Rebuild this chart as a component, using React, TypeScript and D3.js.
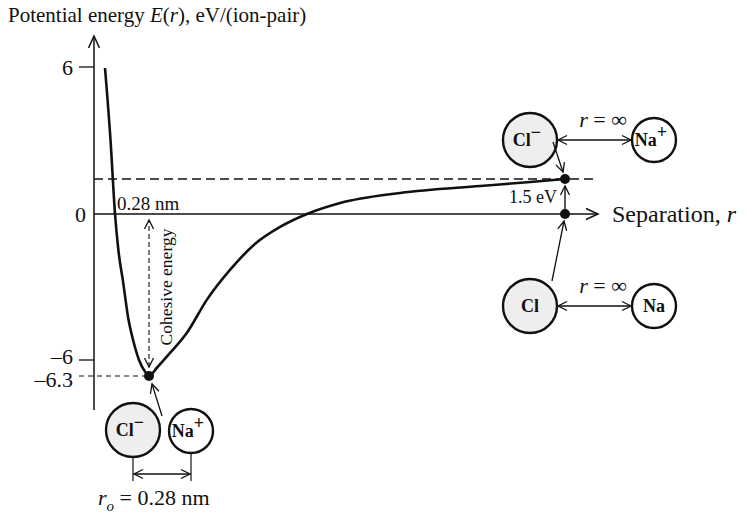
import React from "react";
import * as d3 from "d3";

// ---- data (separation r in nm, energy E in eV per ion pair) ----
const rValues = [0.056, 0.084, 0.107, 0.124, 0.149, 0.173, 0.199, 0.229, 0.26, 0.28, 0.319, 0.387, 0.472, 0.574, 0.692, 0.819, 0.947, 1.084, 1.253, 1.558, 1.965, 2.22, 2.397];
const energyValues = [5.96, 3.07, 0, -1.48, -2.84, -4.22, -5.18, -6.0, -6.22, -6.3, -6.15, -5.71, -4.89, -3.53, -2.3, -1.23, -0.53, 0, 0.47, 0.9, 1.2, 1.37, 1.5];
const yTickValues = [6, 0, -6, -6.3];
const yTickLabels = ["6", "0", "–6", "–6.3"];
const rEquilibrium = 0.28;
const eMinimum = -6.3;
const eIonization = 1.5;
const rInfinity = 2.397;
const rAxisMax = 2.57;

const FONT = "'Liberation Serif', 'Times New Roman', serif";

const x = d3.scaleLinear().domain([0, rAxisMax]).range([94, 599]);
// piecewise-linear energy scale (the figure is schematic)
const y = d3.scaleLinear().domain([-6.3, -6, 0, 1.5, 6]).range([376, 360, 214, 179, 67]);

const pts = rValues.map((r, i) => [r, energyValues[i]] as [number, number]);
const curvePath = d3
  .line<[number, number]>()
  .x((d) => x(d[0]))
  .y((d) => y(d[1]))
  .curve(d3.curveMonotoneX)(pts) as string;

function Ion(props: { cx: number; cy: number; r: number; label: string; sup?: string; fill: string }) {
  const { cx, cy, r, label, sup, fill } = props;
  return (
    <g>
      <circle cx={cx} cy={cy} r={r} fill={fill} stroke="#111" strokeWidth={2.4} />
      <text x={cx - (sup ? 3 : 0)} y={cy + 6} textAnchor="middle" fontFamily={FONT} fontWeight="bold" fontSize={18} fill="#111">
        {label}
        {sup ? (
          <tspan dy={-8} fontSize={18}>{sup}</tspan>
        ) : null}
      </text>
    </g>
  );
}

export default function App() {
  const xMin = x(rEquilibrium);
  const yMin = y(eMinimum);
  const xInf = x(rInfinity);
  const yIon = y(eIonization);
  const y0 = y(0);
  return (
    <svg width={747} height={513} style={{ position: "absolute", left: 0, top: 0, background: "#fff" }}>
      <defs>
        <marker id="ah" viewBox="-12 -7 14 14" refX={0} refY={0} markerWidth={14} markerHeight={14} markerUnits="userSpaceOnUse" orient="auto-start-reverse">
          <path d="M-9,-4.5 L0,0 L-9,4.5" fill="none" stroke="#111" strokeWidth={1.3} />
        </marker>
        <marker id="axh" viewBox="-14 -8 16 16" refX={0} refY={0} markerWidth={16} markerHeight={16} markerUnits="userSpaceOnUse" orient="auto-start-reverse">
          <path d="M-12,-5.5 L0,0 L-12,5.5" fill="none" stroke="#111" strokeWidth={1.5} />
        </marker>
      </defs>

      {/* title */}
      <text x={8} y={22} fontFamily={FONT} fontSize={21} fill="#111">
        Potential energy <tspan fontStyle="italic">E</tspan>(<tspan fontStyle="italic">r</tspan>), eV/(ion-pair)
      </text>

      {/* axes */}
      <line x1={94} y1={410} x2={94} y2={36} stroke="#111" strokeWidth={1.5} markerEnd="url(#axh)" />
      <line x1={94} y1={y0} x2={598} y2={y0} stroke="#111" strokeWidth={1.3} markerEnd="url(#axh)" />
      <text x={612} y={y0} dominantBaseline="central" fontFamily={FONT} fontSize={24} fill="#111">
        Separation, <tspan fontStyle="italic">r</tspan>
      </text>

      {/* y ticks */}
      {yTickValues.map((v, i) => {
        const py = y(v);
        const isZero = v === 0;
        const isMin = v === eMinimum;
        const ly = v === -6 ? py - 4 : isMin ? py + 3 : py;
        return (
          <g key={i}>
            {!isZero && !isMin && <line x1={79} x2={94} y1={py} y2={py} stroke="#111" strokeWidth={1.3} />}
            <text x={isZero ? 86 : 73} y={ly} dominantBaseline="central" textAnchor="end" fontFamily={FONT} fontSize={22} fill="#111">
              {yTickLabels[i]}
            </text>
          </g>
        );
      })}

      {/* dashed 1.5 eV line */}
      <line x1={94} y1={yIon} x2={597} y2={yIon} stroke="#111" strokeWidth={1.6} strokeDasharray="9,5" />
      {/* dashed -6.3 line */}
      <line x1={79} y1={yMin} x2={xMin} y2={yMin} stroke="#111" strokeWidth={1.1} strokeDasharray="5,4" />

      {/* curve */}
      <path d={curvePath} fill="none" stroke="#111" strokeWidth={2.6} />

      {/* cohesive energy */}
      <line x1={xMin} y1={yMin - 9} x2={xMin} y2={y0 + 6} stroke="#111" strokeWidth={1.1} strokeDasharray="5,3" markerStart="url(#ah)" markerEnd="url(#ah)" />
      <text transform={`translate(${xMin + 17},${(y0 + yMin) / 2 - 8}) rotate(-90)`} textAnchor="middle" dominantBaseline="central" fontFamily={FONT} fontSize={17.5} fill="#111">
        Cohesive energy
      </text>
      <text x={117} y={210} fontFamily={FONT} fontSize={19} fill="#111">0.28 nm</text>

      {/* points */}
      <circle cx={xMin} cy={yMin} r={5} fill="#111" />
      <circle cx={xInf} cy={yIon} r={5} fill="#111" />
      <circle cx={xInf} cy={y0} r={5} fill="#111" />

      {/* 1.5 eV arrow */}
      <line x1={xInf} y1={y0} x2={xInf} y2={yIon + 7} stroke="#111" strokeWidth={1.4} markerEnd="url(#ah)" />
      <text x={557} y={203} textAnchor="end" fontFamily={FONT} fontSize={18} fill="#111">1.5 eV</text>

      {/* top right ions */}
      <Ion cx={530} cy={140} r={27} label="Cl" sup="−" fill="#eeeeee" />
      <Ion cx={654} cy={140} r={22} label="Na" sup="+" fill="#fff" />
      <line x1={558} y1={140} x2={631} y2={140} stroke="#111" strokeWidth={1.3} markerStart="url(#ah)" markerEnd="url(#ah)" />
      <text x={603} y={127} textAnchor="middle" fontFamily={FONT} fontSize={22} fill="#111">
        <tspan fontStyle="italic">r</tspan> = ∞
      </text>
      <line x1={553} y1={142} x2={xInf - 2} y2={yIon - 7} stroke="#111" strokeWidth={1.3} markerEnd="url(#ah)" />

      {/* bottom right ions */}
      <Ion cx={530} cy={306} r={27} label="Cl" fill="#eeeeee" />
      <Ion cx={654} cy={306} r={22} label="Na" fill="#fff" />
      <line x1={558} y1={306} x2={631} y2={306} stroke="#111" strokeWidth={1.3} markerStart="url(#ah)" markerEnd="url(#ah)" />
      <text x={603} y={293} textAnchor="middle" fontFamily={FONT} fontSize={22} fill="#111">
        <tspan fontStyle="italic">r</tspan> = ∞
      </text>
      <line x1={552} y1={281} x2={xInf - 1} y2={y0 + 7} stroke="#111" strokeWidth={1.3} markerEnd="url(#ah)" />

      {/* bottom left ions */}
      <Ion cx={133} cy={430} r={27} label="Cl" sup="−" fill="#eeeeee" />
      <Ion cx={191} cy={431} r={22} label="Na" sup="+" fill="#fff" />
      <line x1={162} y1={416} x2={xMin + 3} y2={yMin + 8} stroke="#111" strokeWidth={1.3} markerEnd="url(#ah)" />
      <line x1={133} y1={457} x2={133} y2={481} stroke="#111" strokeWidth={1.2} />
      <line x1={191} y1={453} x2={191} y2={481} stroke="#111" strokeWidth={1.2} />
      <line x1={134} y1={474} x2={190} y2={474} stroke="#111" strokeWidth={1.3} markerStart="url(#ah)" markerEnd="url(#ah)" />
      <text x={98} y={505} fontFamily={FONT} fontSize={22} fill="#111">
        <tspan fontStyle="italic">r</tspan>
        <tspan fontStyle="italic" fontSize={15} dy={6}>o</tspan>
        <tspan dy={-6}> = 0.28 nm</tspan>
      </text>
    </svg>
  );
}
